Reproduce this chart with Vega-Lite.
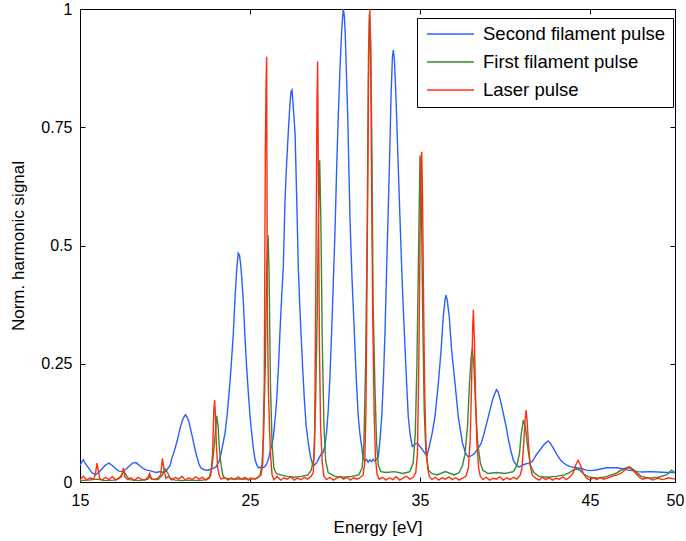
{
  "$schema": "https://vega.github.io/schema/vega-lite/v6.json",
  "width": 595,
  "height": 473,
  "autosize": {"type": "none"},
  "padding": {"left": 80, "top": 9, "right": 11, "bottom": 59},
  "background": "white",
  "config": {
    "view": {"stroke": "black", "strokeWidth": 1},
    "font": "Liberation Sans",
    "axis": {
      "domainColor": "black", "tickColor": "black", "labelColor": "black", "titleColor": "black",
      "labelFont": "Liberation Sans", "titleFont": "Liberation Sans",
      "labelFontSize": 16, "titleFontSize": 17, "titleFontWeight": "normal",
      "grid": false, "tickSize": -5, "domainWidth": 1, "tickWidth": 1, "labelFlush": false
    },
    "legend": {
      "orient": "none", "legendX": 337, "legendY": 9,
      "symbolType": "stroke", "symbolSize": 2209, "symbolStrokeWidth": 1.5, "symbolOffset": 2,
      "clipHeight": 18, "rowPadding": 9, "labelFontSize": 18.5, "labelFont": "Liberation Sans",
      "labelOffset": 8, "padding": 7, "strokeColor": "black", "fillColor": "white", "labelColor": "black",
      "labelLimit": 300
    }
  },
  "datasets": {
    "blue": [
      {"x":15.0,"y":0.035},{"x":15.1,"y":0.042},{"x":15.2,"y":0.047},{"x":15.3,"y":0.04},{"x":15.5,"y":0.03},{"x":15.7,"y":0.02},{"x":15.9,"y":0.015},{"x":16.1,"y":0.02},{"x":16.3,"y":0.028},{"x":16.5,"y":0.036},{"x":16.7,"y":0.04},{"x":16.9,"y":0.035},{"x":17.1,"y":0.028},{"x":17.3,"y":0.023},{"x":17.5,"y":0.022},{"x":17.7,"y":0.027},{"x":17.9,"y":0.034},{"x":18.1,"y":0.04},{"x":18.3,"y":0.041},{"x":18.5,"y":0.035},{"x":18.7,"y":0.029},{"x":18.9,"y":0.025},{"x":19.1,"y":0.024},{"x":19.3,"y":0.022},{"x":19.5,"y":0.02},{"x":19.7,"y":0.022},{"x":19.9,"y":0.02},{"x":20.1,"y":0.025},{"x":20.3,"y":0.035},{"x":20.4,"y":0.05},{"x":20.5,"y":0.06},{"x":20.6,"y":0.072},{"x":20.7,"y":0.085},{"x":20.8,"y":0.1},{"x":20.9,"y":0.115},{"x":21.0,"y":0.128},{"x":21.1,"y":0.136},{"x":21.2,"y":0.142},{"x":21.3,"y":0.137},{"x":21.4,"y":0.128},{"x":21.5,"y":0.112},{"x":21.6,"y":0.097},{"x":21.7,"y":0.08},{"x":21.8,"y":0.064},{"x":21.9,"y":0.05},{"x":22.0,"y":0.038},{"x":22.1,"y":0.03},{"x":22.3,"y":0.026},{"x":22.5,"y":0.025},{"x":22.7,"y":0.027},{"x":22.9,"y":0.03},{"x":23.0,"y":0.032},
      {"x":23.2,"y":0.045},{"x":23.35,"y":0.07},{"x":23.53,"y":0.103},{"x":23.65,"y":0.14},{"x":23.82,"y":0.209},{"x":23.92,"y":0.26},{"x":24.02,"y":0.315},{"x":24.12,"y":0.39},{"x":24.22,"y":0.45},{"x":24.31,"y":0.484},{"x":24.38,"y":0.48},{"x":24.45,"y":0.46},{"x":24.52,"y":0.43},{"x":24.6,"y":0.385},{"x":24.7,"y":0.31},{"x":24.8,"y":0.244},{"x":24.9,"y":0.19},{"x":25.0,"y":0.14},{"x":25.1,"y":0.103},{"x":25.2,"y":0.07},{"x":25.3,"y":0.047},{"x":25.4,"y":0.036},{"x":25.5,"y":0.03},{"x":25.6,"y":0.031},{"x":25.75,"y":0.03},{"x":25.9,"y":0.033},{"x":26.0,"y":0.04},{"x":26.1,"y":0.05},{"x":26.2,"y":0.068},{"x":26.27,"y":0.075},{"x":26.37,"y":0.095},{"x":26.47,"y":0.13},{"x":26.57,"y":0.173},{"x":26.67,"y":0.24},{"x":26.76,"y":0.315},{"x":26.86,"y":0.39},{"x":26.96,"y":0.455},{"x":27.06,"y":0.596},{"x":27.15,"y":0.67},{"x":27.25,"y":0.738},{"x":27.35,"y":0.8},{"x":27.42,"y":0.826},{"x":27.47,"y":0.829},{"x":27.55,"y":0.79},{"x":27.65,"y":0.738},{"x":27.75,"y":0.596},{"x":27.84,"y":0.455},{"x":27.92,"y":0.38},{"x":28.0,"y":0.315},{"x":28.1,"y":0.24},{"x":28.2,"y":0.173},{"x":28.3,"y":0.12},{"x":28.43,"y":0.082},{"x":28.55,"y":0.055},{"x":28.66,"y":0.04},{"x":28.8,"y":0.036},{"x":28.95,"y":0.042},{"x":29.05,"y":0.05},{"x":29.2,"y":0.06},{"x":29.3,"y":0.062},{"x":29.4,"y":0.075},{"x":29.5,"y":0.103},{"x":29.6,"y":0.15},{"x":29.7,"y":0.22},{"x":29.8,"y":0.315},{"x":29.9,"y":0.42},{"x":30.0,"y":0.53},{"x":30.1,"y":0.667},{"x":30.2,"y":0.78},{"x":30.3,"y":0.88},{"x":30.4,"y":0.96},{"x":30.49,"y":1.0},{"x":30.55,"y":0.985},{"x":30.6,"y":0.95},{"x":30.75,"y":0.772},{"x":30.88,"y":0.56},{"x":31.0,"y":0.43},{"x":31.14,"y":0.315},{"x":31.25,"y":0.22},{"x":31.37,"y":0.138},{"x":31.47,"y":0.1},{"x":31.57,"y":0.075},{"x":31.65,"y":0.05},{"x":31.75,"y":0.045},{"x":31.85,"y":0.048},{"x":31.95,"y":0.042},{"x":32.05,"y":0.047},{"x":32.15,"y":0.043},{"x":32.25,"y":0.048},{"x":32.35,"y":0.044},{"x":32.45,"y":0.05},{"x":32.55,"y":0.053},{"x":32.65,"y":0.09},{"x":32.75,"y":0.138},{"x":32.85,"y":0.22},{"x":32.94,"y":0.315},{"x":33.04,"y":0.455},{"x":33.12,"y":0.56},{"x":33.2,"y":0.667},{"x":33.3,"y":0.82},{"x":33.38,"y":0.9},{"x":33.43,"y":0.913},{"x":33.5,"y":0.89},{"x":33.6,"y":0.8},{"x":33.72,"y":0.667},{"x":33.82,"y":0.56},{"x":33.92,"y":0.455},{"x":34.0,"y":0.38},{"x":34.08,"y":0.315},{"x":34.2,"y":0.22},{"x":34.31,"y":0.138},{"x":34.42,"y":0.1},{"x":34.55,"y":0.075},{"x":34.7,"y":0.08},{"x":34.85,"y":0.082},{"x":35.0,"y":0.075},{"x":35.15,"y":0.068},{"x":35.3,"y":0.06},{"x":35.42,"y":0.057},{"x":35.5,"y":0.068},{"x":35.7,"y":0.1},{"x":35.88,"y":0.138},{"x":36.08,"y":0.209},{"x":36.24,"y":0.279},{"x":36.37,"y":0.35},{"x":36.47,"y":0.385},{"x":36.53,"y":0.395},{"x":36.6,"y":0.385},{"x":36.72,"y":0.35},{"x":36.86,"y":0.279},{"x":37.06,"y":0.209},{"x":37.25,"y":0.138},{"x":37.5,"y":0.082},{"x":37.7,"y":0.06},{"x":37.84,"y":0.053},{"x":38.0,"y":0.055},{"x":38.2,"y":0.06},{"x":38.4,"y":0.07},{"x":38.6,"y":0.082},{"x":38.75,"y":0.1},{"x":38.92,"y":0.124},{"x":39.1,"y":0.15},{"x":39.3,"y":0.178},{"x":39.5,"y":0.195},{"x":39.6,"y":0.19},{"x":39.75,"y":0.17},{"x":39.9,"y":0.145},{"x":40.05,"y":0.12},{"x":40.2,"y":0.09},{"x":40.35,"y":0.065},{"x":40.5,"y":0.045},{"x":40.7,"y":0.034},{"x":40.85,"y":0.032},{"x":41.0,"y":0.035},{"x":41.2,"y":0.038},{"x":41.4,"y":0.04},{"x":41.6,"y":0.043},{"x":41.8,"y":0.055},{"x":42.0,"y":0.065},{"x":42.2,"y":0.075},{"x":42.4,"y":0.083},{"x":42.55,"y":0.087},{"x":42.7,"y":0.08},{"x":42.9,"y":0.068},{"x":43.1,"y":0.055},{"x":43.3,"y":0.045},{"x":43.6,"y":0.036},{"x":43.9,"y":0.032},{"x":44.2,"y":0.03},{"x":44.5,"y":0.028},{"x":44.8,"y":0.025},{"x":45.1,"y":0.024},{"x":45.4,"y":0.026},{"x":45.7,"y":0.028},{"x":46.0,"y":0.03},{"x":46.3,"y":0.03},{"x":46.6,"y":0.03},{"x":46.9,"y":0.028},{"x":47.2,"y":0.025},{"x":47.5,"y":0.024},{"x":47.8,"y":0.022},{"x":48.1,"y":0.021},{"x":48.5,"y":0.022},{"x":49.0,"y":0.021},{"x":49.5,"y":0.02},{"x":50.0,"y":0.02}
    ],
    "green": [
      {"x":15.0,"y":0.003},{"x":15.5,"y":0.004},{"x":16.0,"y":0.006},{"x":16.5,"y":0.003},{"x":17.0,"y":0.004},{"x":17.3,"y":0.008},{"x":17.5,"y":0.018},{"x":17.6,"y":0.022},{"x":17.7,"y":0.015},{"x":17.9,"y":0.005},{"x":18.5,"y":0.003},{"x":19.0,"y":0.006},{"x":19.1,"y":0.012},{"x":19.2,"y":0.006},{"x":19.6,"y":0.005},{"x":19.85,"y":0.015},{"x":20.0,"y":0.028},{"x":20.15,"y":0.02},{"x":20.3,"y":0.008},{"x":20.6,"y":0.004},{"x":21.0,"y":0.003},{"x":21.5,"y":0.004},{"x":22.0,"y":0.003},{"x":22.4,"y":0.005},{"x":22.6,"y":0.01},{"x":22.75,"y":0.03},{"x":22.85,"y":0.06},{"x":22.95,"y":0.1},{"x":23.04,"y":0.14},{"x":23.12,"y":0.12},{"x":23.2,"y":0.07},{"x":23.3,"y":0.035},{"x":23.4,"y":0.015},{"x":23.5,"y":0.008},{"x":24.0,"y":0.006},{"x":24.5,"y":0.007},{"x":25.0,"y":0.006},{"x":25.4,"y":0.008},{"x":25.6,"y":0.015},{"x":25.7,"y":0.035},{"x":25.8,"y":0.1},{"x":25.9,"y":0.25},{"x":25.98,"y":0.45},{"x":26.06,"y":0.522},{"x":26.12,"y":0.45},{"x":26.2,"y":0.21},{"x":26.3,"y":0.08},{"x":26.4,"y":0.03},{"x":26.55,"y":0.018},{"x":26.8,"y":0.015},{"x":27.2,"y":0.012},{"x":27.6,"y":0.01},{"x":28.0,"y":0.012},{"x":28.4,"y":0.015},{"x":28.6,"y":0.025},{"x":28.75,"y":0.05},{"x":28.85,"y":0.15},{"x":28.95,"y":0.35},{"x":29.02,"y":0.55},{"x":29.1,"y":0.68},{"x":29.17,"y":0.55},{"x":29.25,"y":0.3},{"x":29.35,"y":0.12},{"x":29.45,"y":0.045},{"x":29.6,"y":0.02},{"x":30.0,"y":0.012},{"x":30.5,"y":0.01},{"x":31.0,"y":0.012},{"x":31.4,"y":0.015},{"x":31.6,"y":0.03},{"x":31.7,"y":0.08},{"x":31.8,"y":0.25},{"x":31.9,"y":0.55},{"x":31.97,"y":0.9},{"x":32.02,"y":0.99},{"x":32.1,"y":0.93},{"x":32.18,"y":0.67},{"x":32.24,"y":0.38},{"x":32.35,"y":0.2},{"x":32.45,"y":0.08},{"x":32.55,"y":0.035},{"x":32.7,"y":0.022},{"x":33.0,"y":0.02},{"x":33.5,"y":0.022},{"x":34.0,"y":0.018},{"x":34.4,"y":0.022},{"x":34.6,"y":0.04},{"x":34.72,"y":0.1},{"x":34.82,"y":0.25},{"x":34.92,"y":0.5},{"x":35.0,"y":0.69},{"x":35.08,"y":0.6},{"x":35.16,"y":0.35},{"x":35.25,"y":0.15},{"x":35.35,"y":0.06},{"x":35.5,"y":0.025},{"x":35.7,"y":0.018},{"x":36.0,"y":0.015},{"x":36.5,"y":0.022},{"x":37.0,"y":0.015},{"x":37.3,"y":0.02},{"x":37.5,"y":0.035},{"x":37.65,"y":0.06},{"x":37.8,"y":0.12},{"x":37.9,"y":0.2},{"x":38.0,"y":0.26},{"x":38.08,"y":0.283},{"x":38.18,"y":0.24},{"x":38.28,"y":0.15},{"x":38.4,"y":0.08},{"x":38.55,"y":0.04},{"x":38.7,"y":0.025},{"x":39.0,"y":0.018},{"x":39.5,"y":0.02},{"x":40.0,"y":0.018},{"x":40.5,"y":0.022},{"x":40.7,"y":0.035},{"x":40.85,"y":0.06},{"x":40.95,"y":0.1},{"x":41.08,"y":0.131},{"x":41.2,"y":0.115},{"x":41.35,"y":0.07},{"x":41.5,"y":0.035},{"x":41.7,"y":0.02},{"x":42.0,"y":0.012},{"x":42.5,"y":0.01},{"x":43.0,"y":0.012},{"x":43.5,"y":0.015},{"x":43.8,"y":0.02},{"x":44.0,"y":0.025},{"x":44.2,"y":0.028},{"x":44.4,"y":0.025},{"x":44.7,"y":0.015},{"x":45.0,"y":0.01},{"x":45.5,"y":0.008},{"x":46.0,"y":0.012},{"x":46.5,"y":0.018},{"x":47.0,"y":0.028},{"x":47.3,"y":0.032},{"x":47.6,"y":0.025},{"x":48.0,"y":0.012},{"x":48.5,"y":0.008},{"x":49.0,"y":0.01},{"x":49.5,"y":0.015},{"x":49.8,"y":0.025},{"x":50.0,"y":0.02}
    ],
    "red": [
      {"x":15.0,"y":0.005},{"x":15.2,"y":0.012},{"x":15.4,"y":0.004},{"x":15.6,"y":0.009},{"x":15.8,"y":0.006},{"x":15.9,"y":0.015},{"x":16.0,"y":0.04},{"x":16.05,"y":0.03},{"x":16.15,"y":0.008},{"x":16.3,"y":0.004},{"x":16.5,"y":0.01},{"x":16.7,"y":0.005},{"x":16.9,"y":0.011},{"x":17.1,"y":0.004},{"x":17.3,"y":0.008},{"x":17.45,"y":0.012},{"x":17.55,"y":0.03},{"x":17.65,"y":0.01},{"x":17.8,"y":0.005},{"x":18.0,"y":0.009},{"x":18.2,"y":0.003},{"x":18.4,"y":0.01},{"x":18.6,"y":0.006},{"x":18.8,"y":0.004},{"x":19.0,"y":0.01},{"x":19.1,"y":0.018},{"x":19.2,"y":0.007},{"x":19.4,"y":0.005},{"x":19.6,"y":0.009},{"x":19.75,"y":0.015},{"x":19.85,"y":0.05},{"x":19.95,"y":0.025},{"x":20.05,"y":0.008},{"x":20.2,"y":0.012},{"x":20.4,"y":0.004},{"x":20.6,"y":0.01},{"x":20.8,"y":0.006},{"x":21.0,"y":0.012},{"x":21.2,"y":0.004},{"x":21.4,"y":0.009},{"x":21.6,"y":0.005},{"x":21.8,"y":0.011},{"x":22.0,"y":0.006},{"x":22.2,"y":0.01},{"x":22.4,"y":0.004},{"x":22.6,"y":0.008},{"x":22.7,"y":0.015},{"x":22.8,"y":0.06},{"x":22.87,"y":0.15},{"x":22.92,"y":0.173},{"x":22.97,"y":0.14},{"x":23.02,"y":0.08},{"x":23.1,"y":0.03},{"x":23.2,"y":0.012},{"x":23.3,"y":0.006},{"x":23.5,"y":0.01},{"x":23.7,"y":0.004},{"x":23.9,"y":0.009},{"x":24.1,"y":0.005},{"x":24.3,"y":0.011},{"x":24.5,"y":0.006},{"x":24.7,"y":0.01},{"x":24.9,"y":0.004},{"x":25.1,"y":0.008},{"x":25.3,"y":0.006},{"x":25.5,"y":0.01},{"x":25.65,"y":0.015},{"x":25.75,"y":0.04},{"x":25.84,"y":0.21},{"x":25.9,"y":0.695},{"x":25.95,"y":0.85},{"x":25.98,"y":0.899},{"x":26.02,"y":0.364},{"x":26.08,"y":0.2},{"x":26.15,"y":0.11},{"x":26.22,"y":0.05},{"x":26.3,"y":0.015},{"x":26.4,"y":0.005},{"x":26.6,"y":0.012},{"x":26.8,"y":0.004},{"x":27.0,"y":0.009},{"x":27.2,"y":0.006},{"x":27.4,"y":0.011},{"x":27.6,"y":0.004},{"x":27.8,"y":0.008},{"x":28.0,"y":0.005},{"x":28.2,"y":0.01},{"x":28.4,"y":0.006},{"x":28.6,"y":0.012},{"x":28.72,"y":0.02},{"x":28.8,"y":0.08},{"x":28.88,"y":0.45},{"x":28.94,"y":0.8},{"x":28.98,"y":0.889},{"x":29.03,"y":0.6},{"x":29.08,"y":0.3},{"x":29.15,"y":0.12},{"x":29.25,"y":0.04},{"x":29.35,"y":0.012},{"x":29.5,"y":0.005},{"x":29.7,"y":0.01},{"x":29.9,"y":0.004},{"x":30.1,"y":0.008},{"x":30.3,"y":0.012},{"x":30.5,"y":0.006},{"x":30.7,"y":0.01},{"x":30.9,"y":0.004},{"x":31.1,"y":0.009},{"x":31.3,"y":0.006},{"x":31.5,"y":0.01},{"x":31.65,"y":0.015},{"x":31.75,"y":0.04},{"x":31.82,"y":0.15},{"x":31.9,"y":0.5},{"x":31.97,"y":0.85},{"x":32.05,"y":1.0},{"x":32.1,"y":0.9},{"x":32.16,"y":0.6},{"x":32.22,"y":0.35},{"x":32.3,"y":0.15},{"x":32.38,"y":0.05},{"x":32.48,"y":0.015},{"x":32.6,"y":0.006},{"x":32.8,"y":0.01},{"x":33.0,"y":0.004},{"x":33.2,"y":0.009},{"x":33.4,"y":0.005},{"x":33.6,"y":0.011},{"x":33.8,"y":0.004},{"x":34.0,"y":0.008},{"x":34.2,"y":0.012},{"x":34.4,"y":0.006},{"x":34.6,"y":0.01},{"x":34.75,"y":0.02},{"x":34.85,"y":0.06},{"x":34.93,"y":0.25},{"x":35.0,"y":0.5},{"x":35.06,"y":0.68},{"x":35.1,"y":0.698},{"x":35.15,"y":0.6},{"x":35.2,"y":0.42},{"x":35.27,"y":0.2},{"x":35.35,"y":0.08},{"x":35.45,"y":0.03},{"x":35.55,"y":0.012},{"x":35.7,"y":0.005},{"x":35.9,"y":0.01},{"x":36.1,"y":0.004},{"x":36.3,"y":0.009},{"x":36.5,"y":0.006},{"x":36.7,"y":0.011},{"x":36.9,"y":0.005},{"x":37.1,"y":0.009},{"x":37.3,"y":0.004},{"x":37.5,"y":0.008},{"x":37.7,"y":0.012},{"x":37.85,"y":0.03},{"x":37.95,"y":0.09},{"x":38.03,"y":0.2},{"x":38.1,"y":0.33},{"x":38.14,"y":0.364},{"x":38.2,"y":0.3},{"x":38.27,"y":0.18},{"x":38.35,"y":0.08},{"x":38.45,"y":0.03},{"x":38.55,"y":0.012},{"x":38.7,"y":0.005},{"x":38.9,"y":0.01},{"x":39.1,"y":0.004},{"x":39.3,"y":0.008},{"x":39.5,"y":0.006},{"x":39.7,"y":0.011},{"x":39.9,"y":0.004},{"x":40.1,"y":0.009},{"x":40.3,"y":0.005},{"x":40.5,"y":0.01},{"x":40.7,"y":0.006},{"x":40.9,"y":0.015},{"x":41.0,"y":0.03},{"x":41.1,"y":0.08},{"x":41.18,"y":0.13},{"x":41.24,"y":0.152},{"x":41.3,"y":0.13},{"x":41.38,"y":0.08},{"x":41.48,"y":0.035},{"x":41.6,"y":0.015},{"x":41.8,"y":0.008},{"x":42.0,"y":0.004},{"x":42.2,"y":0.01},{"x":42.4,"y":0.005},{"x":42.6,"y":0.009},{"x":42.8,"y":0.004},{"x":43.0,"y":0.008},{"x":43.2,"y":0.006},{"x":43.4,"y":0.011},{"x":43.6,"y":0.005},{"x":43.8,"y":0.01},{"x":44.0,"y":0.018},{"x":44.15,"y":0.035},{"x":44.3,"y":0.046},{"x":44.45,"y":0.035},{"x":44.6,"y":0.018},{"x":44.8,"y":0.008},{"x":45.0,"y":0.004},{"x":45.2,"y":0.009},{"x":45.4,"y":0.005},{"x":45.6,"y":0.01},{"x":45.8,"y":0.006},{"x":46.0,"y":0.008},{"x":46.3,"y":0.012},{"x":46.6,"y":0.015},{"x":46.9,"y":0.02},{"x":47.1,"y":0.028},{"x":47.3,"y":0.03},{"x":47.5,"y":0.026},{"x":47.7,"y":0.018},{"x":47.9,"y":0.01},{"x":48.1,"y":0.006},{"x":48.4,"y":0.009},{"x":48.7,"y":0.004},{"x":49.0,"y":0.008},{"x":49.3,"y":0.005},{"x":49.6,"y":0.009},{"x":50.0,"y":0.006}
    ]
  },
  "layer": [
    {
      "data": {"name": "blue"},
      "mark": {"type": "line", "strokeWidth": 1.4, "clip": true},
      "encoding": {
        "x": {"field": "x", "type": "quantitative", "scale": {"domain": [15, 50], "nice": false, "zero": false},
              "axis": {"orient": "bottom", "values": [15, 25, 35, 45, 50], "title": "Energy [eV]", "labelPadding": 15, "titlePadding": 11}},
        "y": {"field": "y", "type": "quantitative", "scale": {"domain": [0, 1], "nice": false},
              "axis": {"orient": "left", "values": [0, 0.25, 0.5, 0.75, 1], "format": ".2~f", "title": "Norm. harmonic signal", "labelPadding": 13, "titlePadding": 13}},
        "color": {"datum": "Second filament pulse", "type": "nominal",
                  "scale": {"domain": ["Second filament pulse", "First filament pulse", "Laser pulse"], "range": ["#2a5fff", "#3a8a30", "#ff2e12"]},
                  "legend": {"title": null}}
      }
    },
    {
      "data": {"name": "green"},
      "mark": {"type": "line", "strokeWidth": 1.4, "clip": true},
      "encoding": {
        "x": {"field": "x", "type": "quantitative", "axis": {"orient": "top", "values": [15, 25, 35, 45, 50], "labels": false, "title": null}},
        "y": {"field": "y", "type": "quantitative", "axis": {"orient": "right", "values": [0, 0.25, 0.5, 0.75, 1], "labels": false, "title": null}},
        "color": {"datum": "First filament pulse", "type": "nominal"}
      }
    },
    {
      "data": {"name": "red"},
      "mark": {"type": "line", "strokeWidth": 1.4, "clip": true},
      "encoding": {
        "x": {"field": "x", "type": "quantitative", "axis": null},
        "y": {"field": "y", "type": "quantitative", "axis": null},
        "color": {"datum": "Laser pulse", "type": "nominal"}
      }
    }
  ],
  "resolve": {"axis": {"x": "independent", "y": "independent"}}
}
